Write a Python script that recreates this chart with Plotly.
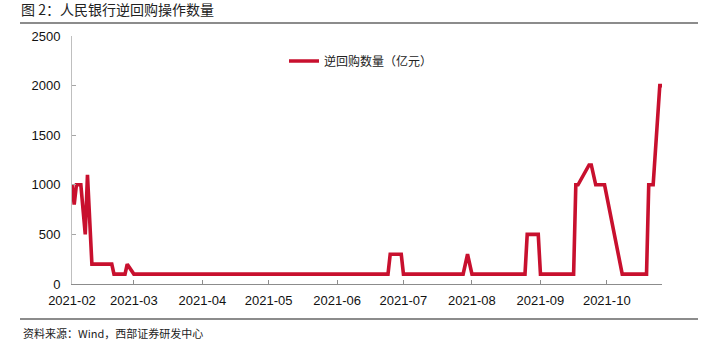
import plotly.graph_objects as go

# Data (vertices)
dates = [
    "2021-02-01", "2021-02-02", "2021-02-03", "2021-02-05", "2021-02-07",
    "2021-02-08", "2021-02-10", "2021-02-19", "2021-02-20", "2021-02-25",
    "2021-02-26", "2021-03-01", "2021-06-24", "2021-06-25", "2021-06-30",
    "2021-07-01", "2021-07-28", "2021-07-30", "2021-08-01", "2021-08-25",
    "2021-08-26", "2021-08-31", "2021-09-01", "2021-09-16", "2021-09-17",
    "2021-09-18", "2021-09-23", "2021-09-24", "2021-09-26", "2021-09-30",
    "2021-10-08", "2021-10-19", "2021-10-20", "2021-10-22", "2021-10-25",
    "2021-10-26",
]
repo_amount = [
    1000, 800, 1000, 1000, 500,
    1100, 200, 200, 100, 100,
    200, 100, 100, 300, 300,
    100, 100, 300, 100, 100,
    500, 500, 100, 100, 1000,
    1000, 1200, 1200, 1000, 1000,
    100, 100, 1000, 1000, 2000,
    2000,
]
series_name = "逆回购数量（亿元）"
title_text = "图 2：人民银行逆回购操作数量"
source_text = "资料来源：Wind，西部证券研发中心"
month_ticks = ["2021-02-01", "2021-03-01", "2021-04-01", "2021-05-01", "2021-06-01",
               "2021-07-01", "2021-08-01", "2021-09-01", "2021-10-01"]
month_labels = ["2021-02", "2021-03", "2021-04", "2021-05", "2021-06",
                "2021-07", "2021-08", "2021-09", "2021-10"]
y_ticks = [0, 500, 1000, 1500, 2000, 2500]

CJK = "Noto Sans CJK SC"
NUM = "Liberation Sans"
RED = "#C8102E"

fig = go.Figure()
fig.add_trace(go.Scatter(
    x=dates, y=repo_amount, mode="lines", name=series_name,
    line=dict(color=RED, width=3.6),
))

L, R, T, B = 72, 44, 36, 66
W, H = 706, 350
pw, ph = W - L - R, H - T - B

def px2x(px):
    return (px - L) / pw

def py2y(py):
    return (H - B - py) / ph

fig.update_layout(
    width=W, height=H,
    margin=dict(l=L, r=R, t=T, b=B, pad=0),
    paper_bgcolor="white", plot_bgcolor="white",
    showlegend=True,
    legend=dict(
        x=px2x(284), y=py2y(61), xanchor="left", yanchor="middle",
        bgcolor="rgba(0,0,0,0)", borderwidth=0,
        font=dict(family=CJK, size=12, color="#222"),
    ),
    title=dict(
        text=title_text, x=21 / W, xanchor="left", xref="container",
        y=1 - 10 / H, yanchor="middle",
        font=dict(family=CJK, size=14, color="#222"),
    ),
    xaxis=dict(
        type="date",
        range=["2021-02-01", "2021-10-26"],
        tickvals=month_ticks, ticktext=month_labels,
        showgrid=False, zeroline=False,
        showline=True, linecolor="#8c8c8c", linewidth=1,
        ticks="inside", ticklen=4, tickcolor="#8c8c8c",
        tickfont=dict(family=NUM, size=13, color="#111"),
        ticklabelstandoff=4,
        automargin=False,
    ),
    yaxis=dict(
        range=[0, 2500], tickvals=y_ticks,
        showgrid=False, zeroline=False,
        showline=True, linecolor="#bfbfbf", linewidth=1,
        ticks="inside", ticklen=4, tickcolor="#a6a6a6",
        tickfont=dict(family=NUM, size=13, color="#111"),
        ticklabelstandoff=8,
        automargin=False,
    ),
)

# Header / footer separator lines
fig.add_shape(type="line", xref="paper", yref="paper",
              x0=px2x(20), x1=px2x(698), y0=py2y(23), y1=py2y(23),
              line=dict(color="#8c8c8c", width=2))
fig.add_shape(type="line", xref="paper", yref="paper",
              x0=px2x(20), x1=px2x(698), y0=py2y(319), y1=py2y(319),
              line=dict(color="#8c8c8c", width=2))

fig.add_annotation(
    text=source_text, xref="paper", yref="paper",
    x=px2x(21), y=py2y(333), xanchor="left", yanchor="middle",
    showarrow=False, font=dict(family=CJK, size=11, color="#222"),
)

fig.write_html("out.html")
